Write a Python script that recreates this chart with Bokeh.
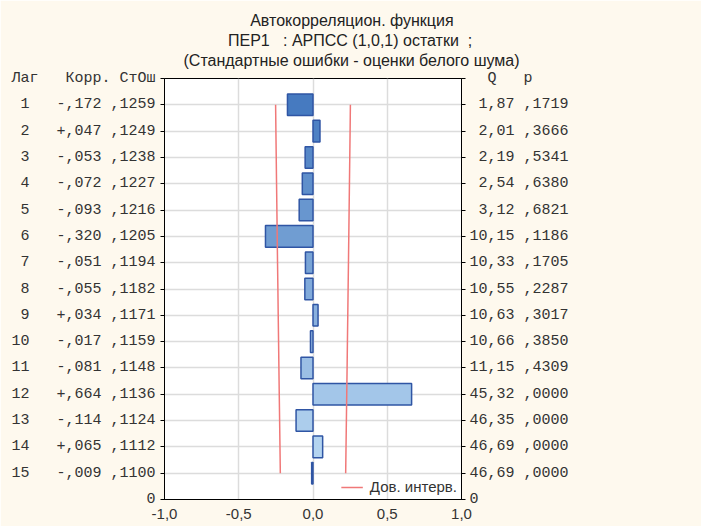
from bokeh.plotting import figure
from bokeh.models import (LinearAxis, FixedTicker, CustomJSTickFormatter, Legend,
                          LegendItem, Range1d, ColumnDataSource)
from bokeh.embed import file_html
from bokeh.resources import INLINE

# ---- data ----
lags = [1, 2, 3, 4, 5, 6, 7, 8, 9, 10, 11, 12, 13, 14, 15]
corr = [-0.172, 0.047, -0.053, -0.072, -0.093, -0.320, -0.051, -0.055,
        0.034, -0.017, -0.081, 0.664, -0.114, 0.065, -0.009]
std_err = [0.1259, 0.1249, 0.1238, 0.1227, 0.1216, 0.1205, 0.1194, 0.1182,
           0.1171, 0.1159, 0.1148, 0.1136, 0.1124, 0.1112, 0.1100]
q_stat = [1.87, 2.01, 2.19, 2.54, 3.12, 10.15, 10.33, 10.55,
          10.63, 10.66, 11.15, 45.32, 46.35, 46.69, 46.69]
p_val = [0.1719, 0.3666, 0.5341, 0.6380, 0.6821, 0.1186, 0.1705, 0.2287,
         0.3017, 0.3850, 0.4309, 0.0000, 0.0000, 0.0000, 0.0000]
x_ticks = [-1.0, -0.5, 0.0, 0.5, 1.0]

title_lines = ["Автокорреляцион. функция",
               "ПЕР1\u00a0\u00a0\u00a0: АРПСС (1,0,1) остатки\u00a0\u00a0;",
               "(Стандартные ошибки - оценки белого шума)"]
left_header = "Лаг   Корр. СтОш"
right_header = "  Q   p"
legend_label = "Дов. интерв."

NB = "\u00a0"
BG = "#FEF9EE"

W, H = 701, 526
FL, FR, FT, FB = 164, 461, 76, 499   # frame edges in page pixels

# ---- derived label strings ----
def left_label(lag, c, s):
    sign = "-" if c < 0 else "+"
    return f"{lag:>2}   {sign},{round(abs(c) * 1000):03d} ,{round(s * 10000):04d}".replace(" ", NB)

def right_label(q, pv):
    return f"{q:5.2f}".replace(".", ",").replace(" ", NB) + NB + "," + f"{round(pv * 10000):04d}"

left_over = {0: left_header.replace(" ", NB), 16: "0"}
right_over = {0: right_header.replace(" ", NB), 16: "0"}
for lag, c, s, q, pv in zip(lags, corr, std_err, q_stat, p_val):
    left_over[lag] = left_label(lag, c, s)
    right_over[lag] = right_label(q, pv)

# bar colours: dark blue at top -> light blue at bottom
c0 = (70, 122, 192)
c1 = (180, 212, 240)
n = len(lags)
colors = []
for i in range(n):
    t = min(1.0, i / (n - 2))
    rgb = tuple(int(round(a + (b - a) * t)) for a, b in zip(c0, c1))
    colors.append("#%02x%02x%02x" % rgb)

src = ColumnDataSource(dict(lag=lags, corr=corr, color=colors))

p = figure(width=W, height=H, output_backend="svg", toolbar_location=None,
           x_range=Range1d(-1, 1), y_range=Range1d(16, 0),
           min_border_left=FL, min_border_right=W - FR, min_border_top=FT,
           min_border_bottom=H - FB,
           background_fill_color="white", border_fill_color=BG,
           outline_line_color="black", outline_line_width=1)

# bars
p.hbar(y="lag", left=0, right="corr", height=0.82, source=src,
       fill_color="color", line_color="#2F55A4", line_width=1.5)

# confidence limits
up = [2 * s for s in std_err]
lo = [-2 * s for s in std_err]
r1 = p.line(up, lags, line_color="#F07878", line_width=1.5)
r2 = p.line(lo, lags, line_color="#F07878", line_width=1.5)

# title: one multi-line block; shorter lines padded so each looks centred
pad = [15, 10, 0]
p.title.text = "\n".join(NB * k + t for k, t in zip(pad, title_lines))
p.title.align = "left"
p.title.offset = 19
p.title.standoff = 18
p.title.text_font = "Liberation Sans"
p.title.text_font_style = "normal"
p.title.text_font_size = "16px"
p.title.text_color = "#222222"
p.title.text_line_height = 1.2

# axes
ytick = FixedTicker(ticks=list(range(0, 17)))
yl = p.left[0]
yl.ticker = ytick
yl.major_label_overrides = left_over
yl.major_label_text_font = "Liberation Mono"
yl.major_label_text_font_size = "15px"
yl.major_label_text_color = "#333333"
yl.major_tick_in = 0
yl.major_tick_out = 4
yl.minor_tick_line_color = None
yl.major_label_standoff = 5
yl.axis_line_color = "black"

yr = LinearAxis(ticker=ytick, major_label_overrides=right_over,
                major_label_text_font="Liberation Mono",
                major_label_text_font_size="15px",
                major_label_text_color="#333333",
                major_tick_in=0, major_tick_out=4, minor_tick_line_color=None,
                major_label_standoff=4, axis_line_color="black")
p.add_layout(yr, "right")

xa = p.below[0]
xa.ticker = FixedTicker(ticks=x_ticks)
xa.formatter = CustomJSTickFormatter(code="return tick.toFixed(1).replace('.', ',');")
xa.major_label_text_font = "Liberation Sans"
xa.major_label_text_font_size = "15px"
xa.major_label_text_color = "#333333"
xa.major_tick_in = 0
xa.major_tick_out = 0
xa.minor_tick_line_color = None
xa.major_label_standoff = 9
xa.axis_line_color = "black"

p.xgrid.ticker = FixedTicker(ticks=x_ticks)
p.xgrid.grid_line_color = "#DCDCDC"
p.xgrid.grid_line_width = 1.5
p.ygrid.ticker = FixedTicker(ticks=lags)
p.ygrid.grid_line_color = "#DCDCDC"
p.ygrid.grid_line_width = 1.5

# legend kept inside the plot area (annotations there are clipped to the frame)
legend = Legend(items=[LegendItem(label=legend_label, renderers=[r1])],
                location="bottom_right", background_fill_alpha=0,
                border_line_color=None, padding=3, margin=4,
                label_text_font="Liberation Sans", label_text_font_size="15px",
                label_text_color="#333333", glyph_width=22, glyph_height=16,
                label_height=16, label_standoff=7)
p.add_layout(legend, "center")

html = file_html(p, INLINE)
html = html.replace("<body>", '<body style="background-color:%s;">' % BG, 1)
open("out.html", "w").write(html)
